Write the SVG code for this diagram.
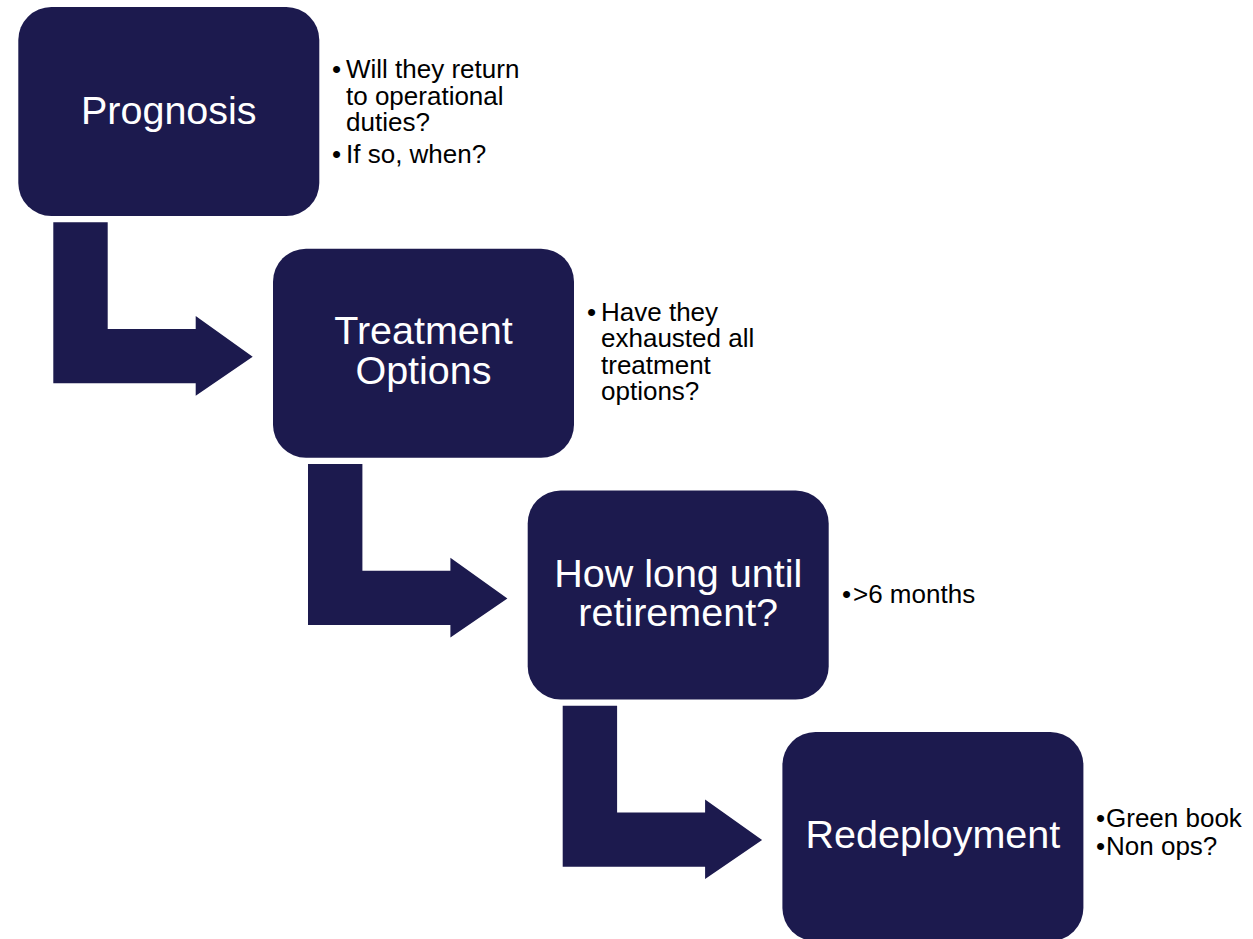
<svg xmlns="http://www.w3.org/2000/svg" width="1253" height="939" viewBox="0 0 1253 939">
<style>
.box{fill:#1c1a4e}
.arrow{fill:#1c1a4e}
.title{font-family:"Liberation Sans",Arial,sans-serif;font-size:39.5px;fill:#ffffff;text-anchor:middle}
.note{font-family:"Liberation Sans",Arial,sans-serif;font-size:26px;fill:#000000}
</style>
<rect width="1253" height="939" fill="#ffffff"/>
<g id="connectors">
<path class="arrow" d="M53.3,222.3 H107.7 V329 H195.7 V316 L252.7,356.7 L195.7,395.7 V383.3 H53.3 Z"/>
<path class="arrow" transform="translate(254.7,241.7)" d="M53.3,222.3 H107.7 V329 H195.7 V316 L252.7,356.7 L195.7,395.7 V383.3 H53.3 Z"/>
<path class="arrow" transform="translate(509.4,483.4)" d="M53.3,222.3 H107.7 V329 H195.7 V316 L252.7,356.7 L195.7,395.7 V383.3 H53.3 Z"/>
</g>
<g id="prognosis">
<rect class="box" x="18.3" y="7" width="301" height="209" rx="33" ry="33"/>
<text class="title" x="168.8" y="124">Prognosis</text>
</g>
<g id="prognosis-notes">
<text class="note"><tspan x="332" y="78">•</tspan><tspan x="346" y="78">Will they return</tspan><tspan x="346" y="104.5">to operational</tspan><tspan x="346" y="131">duties?</tspan></text>
<text class="note"><tspan x="332" y="163.3">•</tspan><tspan x="346" y="163.3">If so, when?</tspan></text>
</g>
<g id="treatment">
<rect class="box" x="273" y="248.7" width="301" height="209" rx="33" ry="33"/>
<text class="title"><tspan x="423.5" y="344">Treatment</tspan><tspan x="423.5" y="384">Options</tspan></text>
</g>
<g id="treatment-notes">
<text class="note"><tspan x="587" y="320.5">•</tspan><tspan x="601" y="320.5">Have they</tspan><tspan x="601" y="347">exhausted all</tspan><tspan x="601" y="373.5">treatment</tspan><tspan x="601" y="400">options?</tspan></text>
</g>
<g id="retirement">
<rect class="box" x="527.7" y="490.4" width="301" height="209" rx="33" ry="33"/>
<text class="title"><tspan x="678.2" y="586.5">How long until</tspan><tspan x="678.2" y="626">retirement?</tspan></text>
</g>
<g id="retirement-notes">
<text class="note"><tspan x="842" y="603">•</tspan><tspan x="853" y="603">&gt;6 months</tspan></text>
</g>
<g id="redeployment">
<rect class="box" x="782.4" y="732.1" width="301" height="209" rx="33" ry="33"/>
<text class="title" x="932.9" y="848">Redeployment</text>
</g>
<g id="redeployment-notes">
<text class="note"><tspan x="1096" y="827">•</tspan><tspan x="1106" y="827">Green book</tspan></text>
<text class="note"><tspan x="1096" y="855">•</tspan><tspan x="1106" y="855">Non ops?</tspan></text>
</g>
</svg>
